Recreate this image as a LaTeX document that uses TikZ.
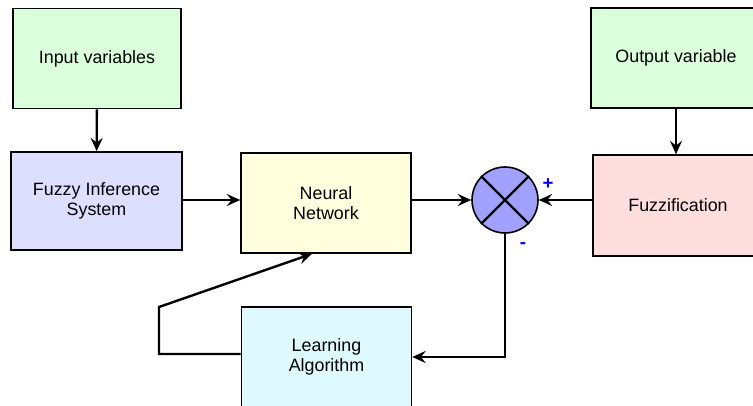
\documentclass[tikz,border=0pt]{standalone}
\usepackage{fontspec}
\setmainfont{Liberation Sans}
\usetikzlibrary{positioning,calc,arrows.meta}
\definecolor{inputgreen}{RGB}{218,255,218}
\definecolor{fislilac}{RGB}{222,222,255}
\definecolor{nnyellow}{RGB}{255,255,222}
\definecolor{fuzzpink}{RGB}{255,222,222}
\definecolor{learncyan}{RGB}{222,250,255}
\definecolor{sumblue}{RGB}{160,160,255}

\begin{document}
\begin{tikzpicture}[
    x=0.75pt, y=-0.75pt,
    >={Stealth[length=10pt,width=9pt,inset=3.5pt]},
    blockbox/.style={draw=black, line width=1.2pt, rectangle, align=center,
                     minimum width=127.5pt, minimum height=75pt,
                     font=\fontsize{13.4}{15}\selectfont},
    sumnode/.style={draw=black, line width=1.2pt, circle, fill=sumblue,
                    minimum size=49.5pt, inner sep=0pt},
    flow/.style={->, line width=1.8pt},
    signlabel/.style={text=blue, font=\fontsize{14}{15}\selectfont\bfseries}
]
\clip (0,0) rectangle (753,406);
\useasboundingbox (0,0) rectangle (753,406);

\node[blockbox, fill=inputgreen, minimum width=126pt]  (input)  at ( 97, 58.5) {Input variables};
\node[blockbox, fill=fislilac, minimum width=128pt, minimum height=73.5pt]
                                                       (fis)    at ( 96.5, 201) {Fuzzy Inference\\System};
\node[blockbox, fill=nnyellow]                         (neural) at (326, 203) {Neural\\Network};
\node[sumnode]                                         (sum)    at (505, 200) {};
\node[blockbox, fill=inputgreen]                       (output) at (676, 58) {Output variable};
\node[blockbox, fill=fuzzpink, minimum height=75.75pt] (fuzz)   at (678, 205.5) {Fuzzification};
\node[blockbox, fill=learncyan]                        (learn)  at (326.5, 357) {Learning\\Algorithm};

\draw[line width=1.8pt] (sum.north west) -- (sum.south east)
                        (sum.north east) -- (sum.south west);

\node[signlabel] (plus)  at (548, 184) {+};
\node[signlabel] (minus) at (523, 246) {-};

\draw[flow] (input) -- (fis);
\draw[flow] (output) -- (output |- fuzz.north);
\draw[flow] (fis.east |- sum) -- (neural.west |- sum);
\draw[flow] (neural.east |- sum) -- (sum.west);
\draw[flow] (fuzz.west |- sum) -- (sum.east);
\draw[flow] (sum.south) |- (learn.east);

\coordinate (loopbot) at (159, 354);
\coordinate (looptop) at (159, 307);
\draw[flow] (learn.west |- loopbot) -- (loopbot) -- (looptop)
            -- ([xshift=-10.5pt]neural.south);

\end{tikzpicture}
\end{document}
